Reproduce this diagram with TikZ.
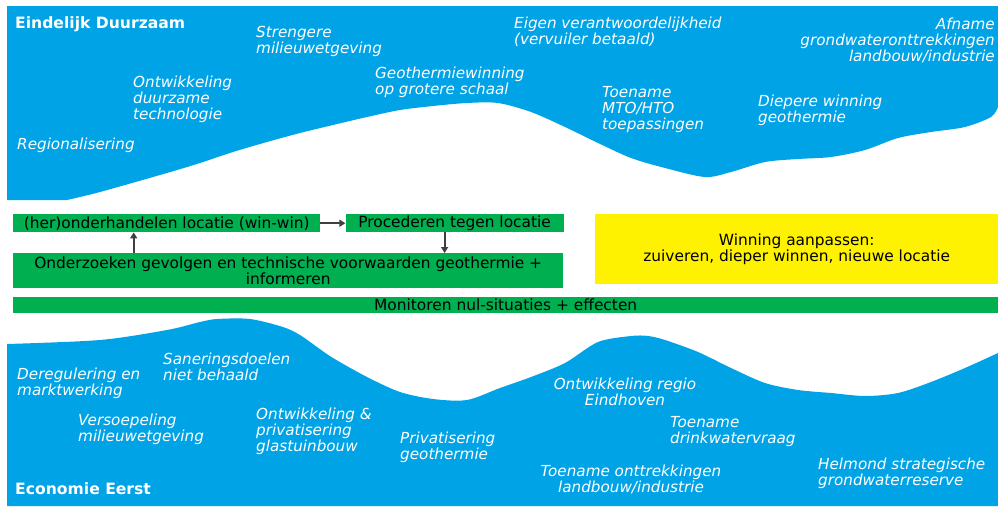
\documentclass[tikz,border=0pt]{standalone}
\usepackage{fontspec}
\setmainfont{DejaVu Sans}
\usetikzlibrary{positioning, arrows.meta}

\definecolor{zeeblauw}{RGB}{0,163,230}
\definecolor{balkgroen}{RGB}{0,176,80}
\definecolor{pijlgrijs}{RGB}{64,64,64}

\begin{document}
\begin{tikzpicture}[
        x=1pt, y=-1pt,
        wavetext/.style={text=white, font=\fontsize{15.2}{16}\selectfont\itshape, align=left, inner sep=0pt, anchor=north west},
        bandtitle/.style={text=white, font=\fontsize{15.6}{18}\selectfont\bfseries, inner sep=0pt, anchor=north west},
        greenbox/.style={fill=balkgroen, font=\fontsize{15.4}{16}\selectfont, align=center, inner sep=0pt},
        flowarrow/.style={draw=pijlgrijs, line width=1.8pt, -{Triangle[length=6pt, width=7pt]}}
    ]
    \useasboundingbox (0,0) rectangle (998,506);
    % bovenste band
    \fill[zeeblauw] (7,6) -- (998,6) -- plot[smooth] coordinates {(998,107) (991,117) (965,127) (931,132) (898,138)
        (865,150) (831,157) (798,159) (765,162) (731,172) (705,177) (665,168) (631,158) (598,143) (565,127)
        (531,112) (498,103) (467,103) (433,106) (400,110) (367,117) (333,125) (300,133) (267,142) (233,152)
        (200,163) (167,173) (100,192) (67,200)} -- (7,200) -- cycle;
    % onderste band
    \fill[zeeblauw] (7,506) -- plot[smooth] coordinates {(7,344) (100,340) (167,330) (200,322) (217,319) (250,319)
        (283,327) (300,335) (317,347) (333,358) (367,377) (400,392) (433,399) (467,400) (500,388) (531,377)
        (565,363) (598,342) (631,336) (648,336) (665,340) (698,352) (731,368) (765,383) (798,390) (831,393)
        (865,396) (898,393) (931,382) (965,368) (998,353)} -- (998,506) -- cycle;

    \node[bandtitle] (DuurTitel) at (15,16) {Eindelijk Duurzaam};
    \node[wavetext] (Strenger) at (256,26) {Strengere\\milieuwetgeving};
    \node[wavetext] (OntwTech) at (133,76) {Ontwikkeling\\duurzame\\technologie};
    \node[wavetext] (Regional) at (17,138) {Regionalisering};
    \node[wavetext] (GeoWin) at (375,67) {Geothermiewinning\\op grotere schaal};
    \node[wavetext] (EigenVer) at (514,17) {Eigen verantwoordelijkheid\\(vervuiler betaald)};
    \node[wavetext, anchor=north east, align=right] (Afname) at (995,18) {Afname\\grondwateronttrekkingen\\landbouw/industrie};
    \node[wavetext] (MtoHto) at (602,86) {Toename\\MTO/HTO\\toepassingen};
    \node[wavetext] (Diepere) at (758,95) {Diepere winning\\geothermie};

    \node[greenbox, minimum width=307pt, minimum height=18pt, anchor=north west] (Onderh) at (13,214) {(her)onderhandelen locatie (win-win)};
    \node[greenbox, minimum width=218pt, minimum height=18pt, right=25pt of Onderh] (Proced) {Procederen tegen locatie};
    \node[greenbox, minimum width=550pt, minimum height=35pt, anchor=north west] (Onderz) at (13,253) {Onderzoeken gevolgen en technische voorwaarden geothermie +\\informeren};
    \node[greenbox, minimum width=985pt, minimum height=16pt, anchor=north west] (Monitor) at (13,297) {Monitoren nul-situaties + effecten};
    \node[greenbox, fill=yellow, minimum width=403pt, minimum height=70pt, anchor=north west] (Aanpas) at (595,214) {Winning aanpassen:\\zuiveren, dieper winnen, nieuwe locatie};

    \draw[flowarrow] (Onderh) -- (Proced);
    \draw[flowarrow] ([xshift=-10pt]Proced.south) -- ([xshift=-10pt]Proced.south |- Onderz.north);
    \draw[flowarrow] ([xshift=-33pt]Onderh.south |- Onderz.north) -- ([xshift=-33pt]Onderh.south);

    \node[wavetext] (Dereg) at (17,368) {Deregulering en\\marktwerking};
    \node[wavetext] (Sanering) at (163,353) {Saneringsdoelen\\niet behaald};
    \node[wavetext] (Versoep) at (78,414) {Versoepeling\\milieuwetgeving};
    \node[wavetext] (Glastuin) at (256,408) {Ontwikkeling \&\\privatisering\\glastuinbouw};
    \node[wavetext] (PrivGeo) at (400,432) {Privatisering\\geothermie};
    \node[wavetext, anchor=north, align=center] (RegioEhv) at (625,378) {Ontwikkeling regio\\Eindhoven};
    \node[wavetext] (Drinkw) at (670,416) {Toename\\drinkwatervraag};
    \node[wavetext, anchor=north, align=center] (Onttrek) at (631,465) {Toename onttrekkingen\\landbouw/industrie};
    \node[wavetext] (Helmond) at (818,458) {Helmond strategische\\grondwaterreserve};
    \node[bandtitle] (EconTitel) at (15,482) {Economie Eerst};
\end{tikzpicture}
\end{document}
